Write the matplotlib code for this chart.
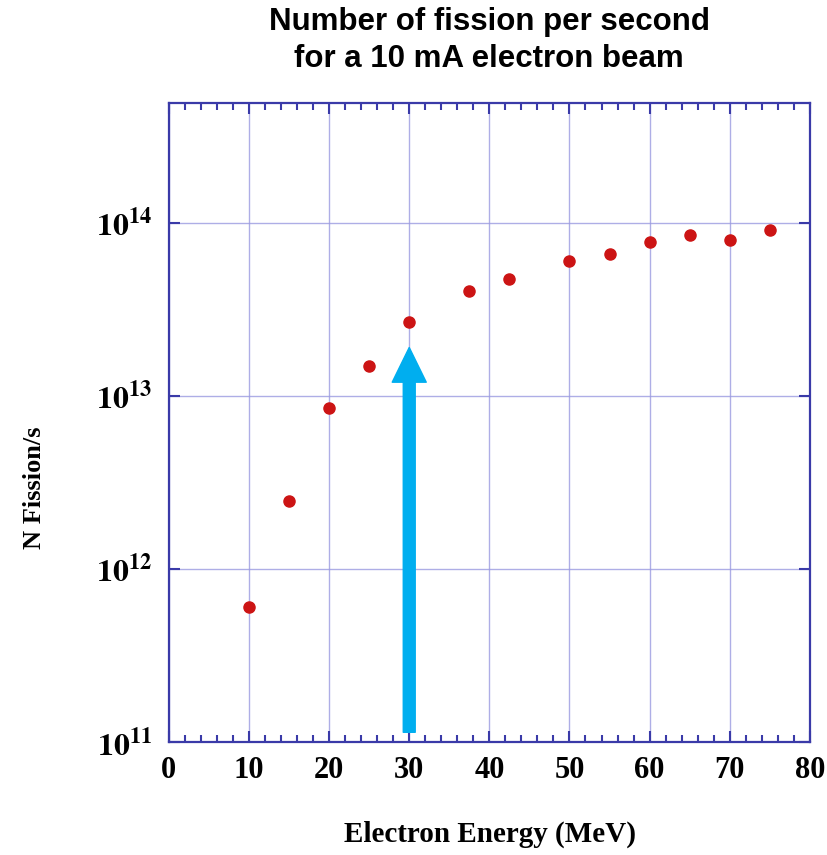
import math
import matplotlib
matplotlib.use("Agg")
import matplotlib.pyplot as plt
from matplotlib.ticker import FixedLocator, MultipleLocator, FuncFormatter, NullLocator
from matplotlib.patches import FancyArrowPatch

energy = [10, 15, 20, 25, 30, 37.5, 42.5, 50, 55, 60, 65, 70, 75]
fissions = [6.0e11, 2.47e12, 8.5e12, 1.49e13, 2.68e13, 4.05e13, 4.75e13,
            6.0e13, 6.6e13, 7.75e13, 8.5e13, 7.9e13, 9.1e13]
xticks = [0, 10, 20, 30, 40, 50, 60, 70, 80]
yticks = [1e11, 1e12, 1e13, 1e14]
arrow_x = 30
arrow_from = 1.14e11
arrow_to = 1.9e13

plt.rcParams['mathtext.fontset'] = 'stix'

fig = plt.figure(figsize=(8.28, 8.55), dpi=100)
ax = fig.add_axes([0.204, 0.132, 0.774, 0.7475])

ax.set_yscale('log')
ax.set_xlim(0, 80)
ax.set_ylim(1e11, 4.9e14)

ax.grid(True, which='major', color='#9a9ae0', linewidth=1.0, alpha=0.8)
ax.set_axisbelow(True)

ax.plot(energy, fissions, 'o', color='#cc1414', markersize=8, zorder=3)

arr = FancyArrowPatch((arrow_x, arrow_from), (arrow_x, arrow_to),
                      arrowstyle='simple,head_width=24.5,head_length=25,tail_width=8.6',
                      mutation_scale=1, color='#00aeef', shrinkA=0, shrinkB=0, zorder=4)
ax.add_patch(arr)

for s in ax.spines.values():
    s.set_color('#3a3aa8')
    s.set_linewidth(1.6)

ax.xaxis.set_major_locator(FixedLocator(xticks))
ax.xaxis.set_minor_locator(MultipleLocator(2))
ax.yaxis.set_major_locator(FixedLocator(yticks))
ax.yaxis.set_minor_locator(NullLocator())
ax.yaxis.set_major_formatter(FuncFormatter(
    lambda v, p: r'$\mathbf{10^{%d}}$' % round(math.log10(v))))

ax.tick_params(axis='both', which='both', direction='in', color='#3a3aa8',
               top=True, right=True)
ax.tick_params(axis='x', which='major', length=8, width=1.5, pad=10)
ax.tick_params(axis='x', which='minor', length=5, width=1.5)
ax.tick_params(axis='y', which='major', length=8, width=1.5, pad=12)

for lab in ax.get_xticklabels():
    lab.set_fontfamily('Liberation Serif')
    lab.set_fontweight('bold')
    lab.set_fontsize(22)
for lab in ax.get_yticklabels():
    lab.set_fontsize(23)

fig.text(0.591, 0.992, 'Number of fission per second\nfor a 10 mA electron beam',
         ha='center', va='top', fontsize=22.5, fontweight='bold',
         family='Liberation Sans', linespacing=1.3)

fig.text(0.592, 0.024, 'Electron Energy (MeV)', ha='center', va='center',
         fontsize=21, fontweight='bold', family='Liberation Serif')
fig.text(0.042, 0.43, 'N Fission/s', ha='center', va='center', rotation=90,
         fontsize=19, fontweight='bold', family='Liberation Serif')

fig.savefig('out.png', dpi=100)
